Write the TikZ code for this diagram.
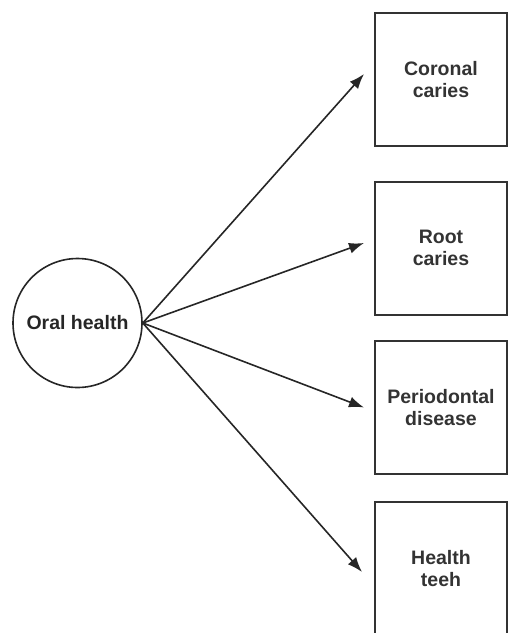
\documentclass[tikz,border=0pt]{standalone}
\usepackage{fontspec}
\setmainfont{Liberation Sans}
\usepackage{tikz}
\usetikzlibrary{arrows.meta}
\tikzset{
	>={Latex[length=15pt,width=11pt]},
	outcome/.style={draw=black!80, line width=2pt, minimum width=132pt, minimum height=133pt,
		align=center, font=\fontsize{19.5}{22}\selectfont\bfseries, text=black!80},
	exposure/.style={circle, draw=black!85, line width=1.6pt, minimum size=129pt, inner sep=0pt,
		font=\fontsize{19.5}{22}\selectfont\bfseries, text=black!85},
	link/.style={->, black!85, line width=1.6pt}
}
\begin{document}
\begin{tikzpicture}[x=1pt,y=-1pt]
	\useasboundingbox (0,0) rectangle (508,633);
	\clip (0,0) rectangle (508,633);
	
	% Exposure
	\node[exposure] (oral) at (77.5,323) {Oral health};
	
	% Outcomes
	\node[outcome] (coronal) at (441,79.5) {Coronal\\caries};
	\node[outcome] (root) at (441,248) {Root\\caries};
	\node[outcome] (perio) at (441,407.5) {Periodontal\\disease};
	\node[outcome] (teeth) at (441,568.5) {Health\\teeh};
	
	% Arrows
	\draw[link] (oral.east) -- ([xshift=-10pt,yshift=5.5pt]coronal.west);
	\draw[link] (oral.east) -- ([xshift=-10pt,yshift=5pt]root.west);
	\draw[link] (oral.east) -- ([xshift=-10pt]perio.west);
	\draw[link] (oral.east) -- ([xshift=-12pt,yshift=-3.5pt]teeth.west);
	
\end{tikzpicture}
\end{document}
